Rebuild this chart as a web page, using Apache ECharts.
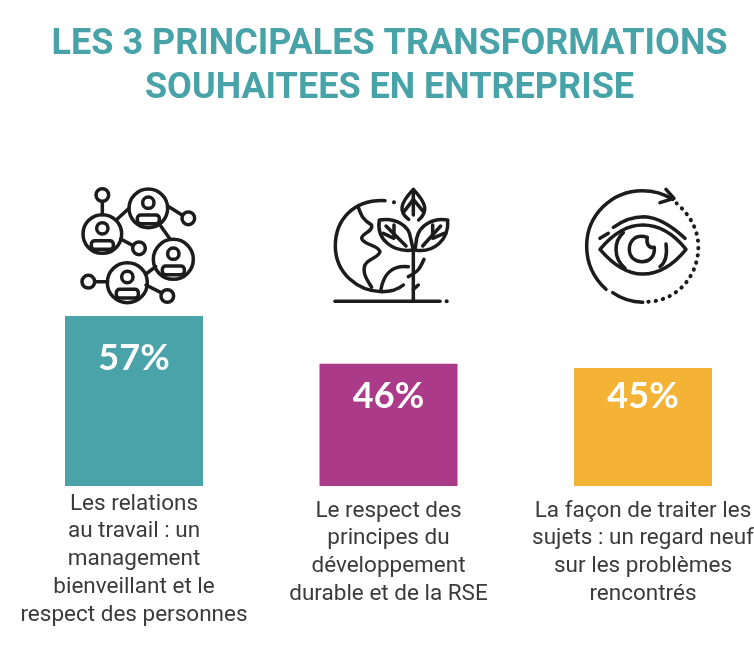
<!DOCTYPE html>
<html>
<head>
<meta charset="utf-8">
<style>html,body{margin:0;padding:0;background:#fff}#c{width:754px;height:663px}</style>
<script src="https://cdn.jsdelivr.net/npm/echarts@6/dist/echarts.min.js"></script>
</head>
<body>
<div id="c"></div>
<script>
const titleText = "LES 3 PRINCIPALES TRANSFORMATIONS\nSOUHAITEES EN ENTREPRISE";
const categories = [
  "Les relations\nau travail : un\nmanagement\nbienveillant et le\nrespect des personnes",
  "Le respect des\nprincipes du\ndéveloppement\ndurable et de la RSE",
  "La façon de traiter les\nsujets : un regard neuf\nsur les problèmes\nrencontrés"
];
const values = [57, 46, 45];
const barColors = ["#4aa3a8", "#ab3a88", "#f5b335"];
const labelOffsets = [32, 23, 18];
const categoryPaddingTop = [0, 7, 7];

const ink = "#1c1c1c";
const stroke = {stroke: ink, fill: null, lineWidth: 10.5, lineCap: "round", lineJoin: "round"};
let shapeCount = 0;
function p(d, extra) {
  const name = "iconPath" + (shapeCount++);
  echarts.graphic.registerShape(name, echarts.graphic.extendPath(d, {}));
  return {type: name, style: Object.assign({}, stroke, extra || {})};
}
function ring(cx, cy, r, extra) { return {type: "circle", shape: {cx, cy, r}, style: Object.assign({}, stroke, extra || {})}; }
function hub(cx, cy, r) {
  return [
    ring(cx, cy, r),
    ring(cx, cy - 17, 17),
    {type: "rect", shape: {x: cx - 33, y: cy + 20, width: 66, height: 26, r: 10}, style: Object.assign({}, stroke)}
  ];
}

const networkIcon = {type: "group", x: 60, y: 170, scaleX: 1/3, scaleY: 1/3, silent: true, children: [].concat(
  hub(265, 115, 58), hub(127, 192, 58), hub(340, 268, 60), hub(202, 338, 60),
  [[127,75],[385,145],[237,235],[85,335],[322,378]].map(c => ring(c[0], c[1], 19)),
  [p("M127 95L127 134"), p("M172 147L207 115"), p("M323 108L366 135"), p("M182 207L218 226"),
   p("M300 165L330 207"), p("M258 312L287 290"), p("M104 335L143 335"), p("M258 345L303 368")]
)};

const earthIcon = {type: "group", x: 320, y: 170, scaleX: 1/3, scaleY: 1/3, silent: true, children: [
  p("M195 92C100 88 46 150 46 228C46 310 115 365 185 365C210 365 235 358 250 345"),
  {type: "circle", shape: {cx: 222, cy: 97, r: 6}, style: {fill: ink}},
  p("M115 112C125 140 130 150 155 165C160 185 125 190 125 205C130 225 175 225 180 245C175 265 145 265 135 285C125 310 145 335 155 352"),
  p("M183 358C190 315 215 285 265 290"),
  p("M45 394L360 394"),
  {type: "circle", shape: {cx: 380, cy: 394, r: 6}, style: {fill: ink}},
  p("M280 245L280 392"),
  p("M312 268C300 295 295 305 265 320"),
  p("M295 345L280 358"),
  p("M266 148C235 125 240 100 280 58C320 100 325 125 296 150"),
  p("M280 60L280 135"),
  p("M252 125L280 88L310 125"),
  p("M280 240C220 248 168 210 178 150C225 142 268 165 272 205Z"),
  p("M285 240C340 250 388 210 383 150C340 142 298 165 290 205Z"),
  p("M198 168L258 228"),
  p("M362 168L308 228"),
  p("M222 165L222 205L190 190"),
  p("M338 165L338 205L372 190")
]};

const eyeIcon = {type: "group", x: 570, y: 170, scaleX: 1/3, scaleY: 1/3, silent: true, children: [
  p("M308 88C280 70 250 62 217 62C125 62 50 136 50 228C50 280 72 325 108 358"),
  p("M128 368C155 387 185 396 218 397"),
  p("M235 395C320 392 385 320 385 230C385 180 360 135 320 100", {lineDash: [1, 21], lineWidth: 12}),
  p("M288 58L312 85L270 98"),
  p("M90 238C130 190 170 165 218 165C266 165 310 190 348 238C310 285 266 312 218 312C170 312 130 285 90 238Z"),
  p("M130 172C160 150 190 140 222 140C270 142 310 172 345 205"),
  p("M90 205L115 190"),
  p("M160 188C130 215 130 265 165 295"),
  p("M270 290C290 275 292 250 288 222"),
  p("M232 202C195 190 178 215 178 238C178 262 195 275 216 275C240 275 255 258 253 232C235 235 228 220 232 202Z")
]};

const chart = echarts.init(document.getElementById("c"), null, {renderer: "canvas"});
chart.setOption({
  animation: false,
  backgroundColor: "#fff",
  title: {
    text: titleText,
    left: 384.5,
    top: 18,
    textAlign: "center",
    textStyle: {fontFamily: "Roboto", fontWeight: 700, fontSize: 36, lineHeight: 44, color: "#47a3a8"}
  },
  grid: {left: 6.75, top: 316, width: 763.5, height: 170, outerBoundsMode: "none", containLabel: false},
  xAxis: {
    type: "category",
    data: categories.map((c, i) => ({value: c, textStyle: {padding: [categoryPaddingTop[i], 0, 0, 0]}})),
    axisLine: {show: false},
    axisTick: {show: false},
    axisLabel: {interval: 0, margin: 4, fontFamily: "Roboto", fontSize: 22.5, lineHeight: 27.75, color: "#3a3a3a", align: "center", verticalAlign: "top", hideOverlap: false}
  },
  yAxis: {type: "value", min: 17.75, max: 57, show: false},
  series: [{
    type: "bar",
    barWidth: 138,
    data: values.map((v, i) => ({
      value: v,
      itemStyle: {color: barColors[i]},
      label: {offset: [0, labelOffsets[i] - 8]}
    })),
    label: {
      show: true, position: "insideTop", distance: 0,
      formatter: "{c}%", color: "#fff", fontFamily: "Lato", fontWeight: 700, fontSize: 36
    }
  }],
  graphic: [networkIcon, earthIcon, eyeIcon]
});
</script>
</body>
</html>
